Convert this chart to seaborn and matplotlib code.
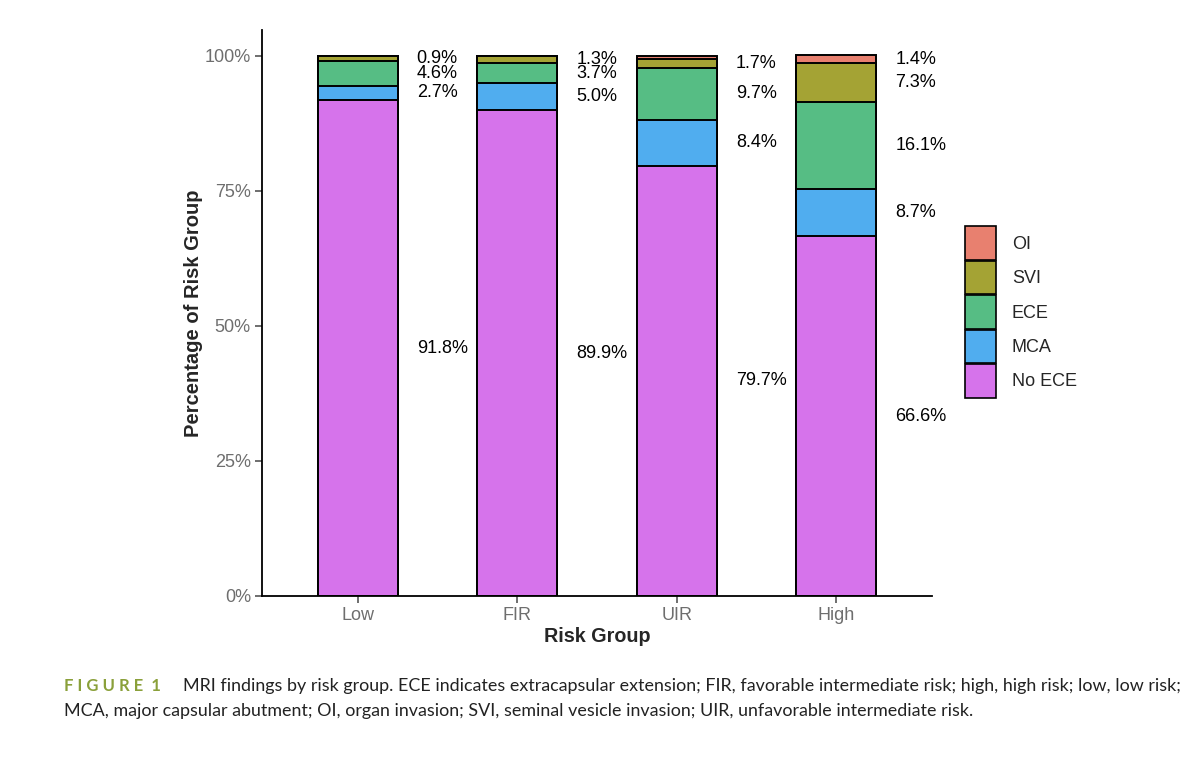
import numpy as np
import pandas as pd
import matplotlib
matplotlib.use("Agg")
import matplotlib.pyplot as plt
import seaborn as sns
from matplotlib.patches import Patch

# data (percent of each risk group)
groups = ["Low", "FIR", "UIR", "High"]
no_ece = [91.8, 89.9, 79.7, 66.6]
mca = [2.7, 5.0, 8.4, 8.7]
ece = [4.6, 3.7, 9.7, 16.1]
svi = [0.9, 1.3, 1.7, 7.3]
oi = [0.0, 0.1, 0.5, 1.4]

findings = ["No ECE", "MCA", "ECE", "SVI", "OI"]
colors = {"No ECE": "#D673EB", "MCA": "#50ADEF", "ECE": "#56BD84",
          "SVI": "#A4A334", "OI": "#E8806F"}

df = pd.DataFrame({"group": groups, "No ECE": no_ece, "MCA": mca,
                   "ECE": ece, "SVI": svi, "OI": oi})

sns.set_style("white")
plt.rcParams["font.family"] = ["Liberation Sans", "DejaVu Sans"]

fig = plt.figure(figsize=(12, 7.76), dpi=100)
ax = fig.add_axes([262 / 1200, 1 - 596 / 776, (932 - 262) / 1200, (596 - 30) / 776])

# stacked bars: draw cumulative totals from the top layer down
cum = df[findings].cumsum(axis=1)
for f in reversed(findings):
    sns.barplot(x=df["group"], y=cum[f], color=colors[f], width=0.5,
                edgecolor="black", linewidth=1.4, saturation=1, ax=ax)

# percentage labels at segment midpoints, to the right of each bar
for i, g in enumerate(groups):
    bottom = 0
    for f in findings:
        v = df.loc[i, f]
        if v >= 0.8:
            ax.text(i + 0.37, bottom + v / 2, f"{v:.1f}%", ha="left",
                    va="center", fontsize=13, color="black")
        bottom += v

ax.set_xlim(-0.6, 3.6)
ax.set_ylim(0, 104.8)
ax.set_yticks([0, 25, 50, 75, 100])
ax.set_yticklabels(["0%", "25%", "50%", "75%", "100%"])
ax.tick_params(axis="both", colors="#555555", labelsize=13, length=5,
               width=1.2, direction="out", left=True, bottom=True, pad=3)
ax.tick_params(axis="both", labelcolor="#6e6e6e")
for s in ["top", "right"]:
    ax.spines[s].set_visible(False)
for s in ["left", "bottom"]:
    ax.spines[s].set_color("black")
    ax.spines[s].set_linewidth(1.3)

ax.set_xlabel("Risk Group", fontsize=14.2, fontweight="bold", labelpad=2)
ax.set_ylabel("Percentage of Risk Group", fontsize=14.5, fontweight="bold", labelpad=1)

handles = [Patch(facecolor=colors[f], edgecolor="black", linewidth=1.2, label=f)
           for f in ["OI", "SVI", "ECE", "MCA", "No ECE"]]
fig.legend(handles=handles, loc="center left", bbox_to_anchor=(965 / 1200, 1 - 312 / 776),
           frameon=False, fontsize=13, handlelength=1.7, handleheight=2.5,
           handletextpad=0.9, labelspacing=0.04, borderpad=0, borderaxespad=0)

# caption
fig.text(64 / 1200, 1 - 686 / 776, "F I G U R E  1", fontsize=12, color="#8AA03A",
         family="Lato", fontweight="bold", va="center", ha="left")
fig.text(183 / 1200, 1 - 686 / 776,
         "MRI findings by risk group. ECE indicates extracapsular extension; FIR, favorable "
         "intermediate risk; high, high risk; low, low risk;",
         fontsize=12.9, family="Lato", va="center", ha="left", color="#222222")
fig.text(64 / 1200, 1 - 711 / 776,
         "MCA, major capsular abutment; OI, organ invasion; SVI, seminal vesicle invasion; "
         "UIR, unfavorable intermediate risk.",
         fontsize=12.9, family="Lato", va="center", ha="left", color="#222222")

fig.savefig("out.png", dpi=100)
